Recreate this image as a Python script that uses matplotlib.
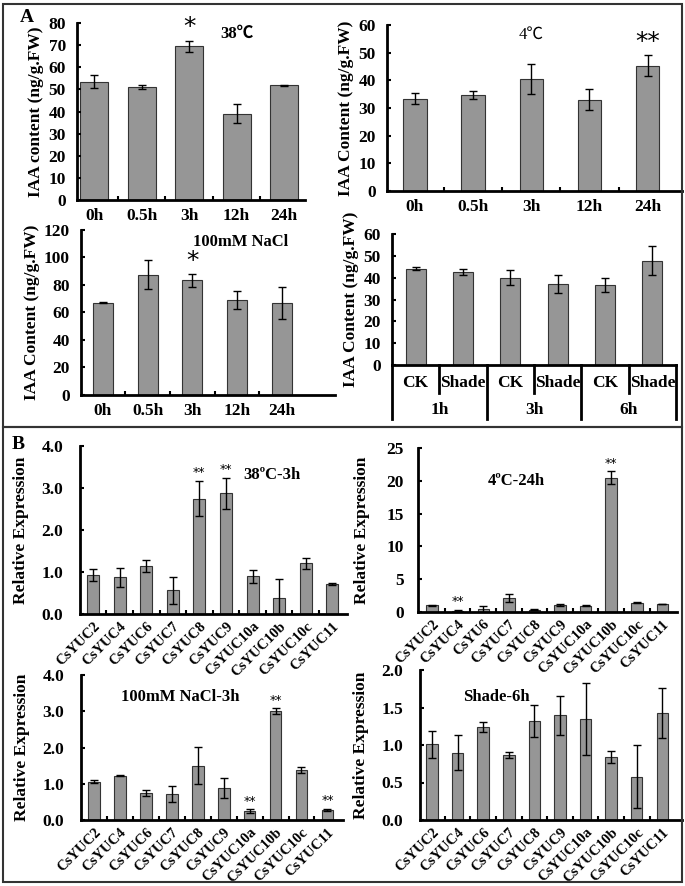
import numpy as np
import matplotlib
matplotlib.use('Agg')
import matplotlib.pyplot as plt
from matplotlib.patches import Rectangle

plt.rcParams['font.family'] = ['Liberation Serif', 'Noto Sans CJK SC']
plt.rcParams['font.weight'] = 'bold'
plt.rcParams['axes.labelweight'] = 'bold'

W, H = 685, 886

# ---- panel A data: IAA content (ng/g.FW) ----
hours = ['0h', '0.5h', '3h', '12h', '24h']
heat_iaa = [53.5, 51.0, 69.5, 39.0, 51.8]
heat_iaa_err = [3.0, 1.0, 2.5, 4.2, 0.4]
heat_iaa_sig = ['', '', '*', '', '']
cold_iaa = [33.3, 34.8, 40.5, 33.0, 45.3]
cold_iaa_err = [2.0, 1.5, 5.5, 3.8, 3.8]
cold_iaa_sig = ['', '', '', '', '**']
salt_iaa = [67.2, 87.5, 83.3, 69.0, 66.8]
salt_iaa_err = [0.6, 10.5, 4.5, 6.3, 11.8]
salt_iaa_sig = ['', '', '*', '', '']
shade_groups = ['CK', 'Shade', 'CK', 'Shade', 'CK', 'Shade']
shade_times = ['1h', '3h', '6h']
shade_iaa = [44.0, 42.5, 40.0, 37.0, 36.7, 47.8]
shade_iaa_err = [0.7, 1.5, 3.5, 4.2, 3.2, 6.8]

# ---- panel B data: relative expression ----
genes = ['CsYUC2', 'CsYUC4', 'CsYUC6', 'CsYUC7', 'CsYUC8', 'CsYUC9',
         'CsYUC10a', 'CsYUC10b', 'CsYUC10c', 'CsYUC11']
genes_cold = ['CsYUC2', 'CsYUC4', 'CsYU6', 'CsYUC7', 'CsYUC8', 'CsYUC9',
              'CsYUC10a', 'CsYUC10b', 'CsYUC10c', 'CsYUC11']
heat_exp = [0.93, 0.87, 1.14, 0.56, 2.75, 2.87, 0.90, 0.37, 1.21, 0.72]
heat_exp_err = [0.14, 0.22, 0.14, 0.32, 0.42, 0.38, 0.15, 0.47, 0.13, 0.03]
heat_exp_sig = ['', '', '', '', '**', '**', '', '', '', '']
cold_exp = [1.0, 0.15, 0.4, 2.1, 0.35, 1.1, 0.95, 20.5, 1.4, 1.25]
cold_exp_err = [0.05, 0.2, 0.5, 0.6, 0.1, 0.15, 0.05, 1.0, 0.1, 0.0]
cold_exp_sig = ['', '**', '', '', '', '', '', '**', '', '']
salt_exp = [1.06, 1.22, 0.75, 0.72, 1.50, 0.89, 0.25, 3.00, 1.38, 0.28]
salt_exp_err = [0.04, 0.01, 0.09, 0.23, 0.52, 0.27, 0.05, 0.08, 0.08, 0.03]
salt_exp_sig = ['', '', '', '', '', '', '**', '**', '', '**']
shade_exp = [1.01, 0.90, 1.24, 0.87, 1.32, 1.40, 1.35, 0.84, 0.58, 1.43]
shade_exp_err = [0.18, 0.23, 0.07, 0.04, 0.21, 0.26, 0.48, 0.08, 0.42, 0.33]

fig = plt.figure(figsize=(W / 100, H / 100), dpi=100)

BAR = '#969696'
EDGE = '#333333'
TICK = 12.5


def px_axes(l, t, r, b):
    return fig.add_axes([l / W, 1 - b / H, (r - l) / W, (b - t) / H])


def draw(ax, vals, errs, sig, xlim, ylim, yticks, fmt, width, star_size, ypad):
    x = np.arange(len(vals))
    ax.bar(x, vals, width, yerr=errs, color=BAR, edgecolor=EDGE, lw=0.8,
           error_kw=dict(ecolor='black', elinewidth=1, capsize=3, capthick=1))
    for xi, v, e, s in zip(x, vals, errs, sig):
        if s:
            ax.annotate(s, (xi, v + e), xytext=(0, 1), textcoords='offset points',
                        ha='center', va='bottom', fontsize=star_size,
                        family='DejaVu Sans', fontweight='normal')
    for s in ['top', 'right']:
        ax.spines[s].set_visible(False)
    for s in ['left', 'bottom']:
        ax.spines[s].set_linewidth(2)
    ax.set_xlim(*xlim)
    ax.set_ylim(*ylim)
    ax.set_yticks(yticks)
    ax.set_yticklabels([fmt.format(t) for t in yticks], fontweight='bold')
    ax.tick_params(axis='y', direction='in', length=3, width=1.5,
                   labelsize=TICK, pad=ypad)
    # small marks between categories, labels under bars
    ax.set_xticks(x[:-1] + 0.5)
    ax.set_xticklabels([])
    ax.tick_params(axis='x', which='major', direction='in', length=3, width=1.5)
    ax.patch.set_alpha(0)
    return x


def hour_labels(ax, x, labels):
    ax.set_xticks(x, labels, minor=True, fontweight='bold')
    ax.tick_params(axis='x', which='minor', length=0, labelsize=TICK, pad=6)


# ---------------- A ----------------
ax1 = px_axes(77, 23, 305, 200)
x = draw(ax1, heat_iaa, heat_iaa_err, heat_iaa_sig, (-0.36, 4.44), (0, 80),
         range(0, 81, 10), '{}', 0.59, 18, 8)
hour_labels(ax1, x, hours)
ax1.set_ylabel('IAA content (ng/g.FW)', fontsize=12.5, labelpad=3)
ax1.text(0.70, 0.94, '38\u2103', transform=ax1.transAxes, ha='center', va='center',
         fontsize=12)

ax2 = px_axes(387, 25, 682, 191)
x = draw(ax2, cold_iaa, cold_iaa_err, cold_iaa_sig, (-0.48, 4.59), (0, 60),
         range(0, 61, 10), '{}', 0.40, 18, 8)
hour_labels(ax2, x, hours)
ax2.set_ylabel('IAA Content (ng/g.FW)', fontsize=12.5, labelpad=3)
ax2.text(0.49, 0.94, '4\u2103', transform=ax2.transAxes, ha='center', va='center',
         fontsize=12, fontweight='normal')

ax3 = px_axes(81, 230, 335, 395)
x = draw(ax3, salt_iaa, salt_iaa_err, salt_iaa_sig, (-0.49, 5.19), (0, 120),
         range(0, 121, 20), '{}', 0.45, 18, 8)
hour_labels(ax3, x, hours)
ax3.set_ylabel('IAA Content (ng/g.FW)', fontsize=12.5, labelpad=3)
ax3.text(0.63, 0.93, '100mM NaCl', transform=ax3.transAxes, ha='center',
         va='center', fontsize=12)

ax4 = px_axes(392, 234, 676, 365)
x = draw(ax4, shade_iaa, shade_iaa_err, [''] * 6, (-0.5, 5.5), (0, 60),
         range(0, 61, 10), '{}', 0.42, 18, 8)
ax4.set_xticks([])
ax4.set_ylabel('IAA Content (ng/g.FW)', fontsize=12.5, labelpad=3)
tr = ax4.get_xaxis_transform()
for k in range(7):
    xb = k - 0.5
    low = -0.21 if k % 2 == 1 else -0.41
    ax4.plot([xb, xb], [0, low], color='black', lw=2, transform=tr, clip_on=False)
for xi, g in zip(x, shade_groups):
    ax4.text(xi, -0.14, g, transform=tr, ha='center', va='center', fontsize=TICK)
for k, t in enumerate(shade_times):
    ax4.text(2 * k + 0.5, -0.34, t, transform=tr, ha='center', va='center',
             fontsize=TICK)


# ---------------- B ----------------
def gene_labels(ax, x, labels):
    ax.set_xticks(x, labels, minor=True, fontweight='bold')
    ax.tick_params(axis='x', which='minor', length=0, labelsize=10.5, pad=4)
    for lab in ax.get_xticklabels(minor=True):
        lab.set_rotation(45)
        lab.set_ha('right')
        lab.set_rotation_mode('anchor')


ax5 = px_axes(80, 446, 347, 614)
x = draw(ax5, heat_exp, heat_exp_err, heat_exp_sig, (-0.49, 9.55), (0, 4),
         [0, 1, 2, 3, 4], '{:.1f}', 0.45, 9, 12)
gene_labels(ax5, x, genes)
ax5.set_ylabel('Relative Expression', fontsize=12.5, labelpad=9)
ax5.text(0.72, 0.83, '38\u00baC-3h', transform=ax5.transAxes, ha='center',
         va='center', fontsize=12)

ax6 = px_axes(418, 448, 677, 612)
x = draw(ax6, cold_exp, cold_exp_err, cold_exp_sig, (-0.55, 9.57), (0, 25),
         range(0, 26, 5), '{}', 0.45, 9, 10)
gene_labels(ax6, x, genes_cold)
ax6.set_ylabel('Relative Expression', fontsize=12.5, labelpad=12)
ax6.text(0.38, 0.8, '4\u00baC-24h', transform=ax6.transAxes, ha='center',
         va='center', fontsize=12)

ax7 = px_axes(81, 675, 343, 820)
x = draw(ax7, salt_exp, salt_exp_err, salt_exp_sig, (-0.5, 9.6), (0, 4),
         [0, 1, 2, 3, 4], '{:.1f}', 0.45, 9, 12)
gene_labels(ax7, x, genes)
ax7.set_ylabel('Relative Expression', fontsize=12.5, labelpad=9)
ax7.text(0.38, 0.85, '100mM NaCl-3h', transform=ax7.transAxes, ha='center',
         va='center', fontsize=12)

ax8 = px_axes(420, 670, 682, 820)
x = draw(ax8, shade_exp, shade_exp_err, [''] * 10, (-0.47, 9.77), (0, 2),
         [0, 0.5, 1, 1.5, 2], '{:.1f}', 0.45, 9, 12)
gene_labels(ax8, x, genes)
ax8.set_ylabel('Relative Expression', fontsize=12.5, labelpad=9)
ax8.text(0.29, 0.82, 'Shade-6h', transform=ax8.transAxes, ha='center',
         va='center', fontsize=12)

# panel letters and frames
fig.text(27 / W, 1 - 18 / H, 'A', fontsize=14, ha='center', va='center')
fig.text(18 / W, 1 - 445 / H, 'B', fontsize=14, ha='center', va='center')
fig.add_artist(Rectangle((3 / W, 1 - 427 / H), 679 / W, 423 / H,
                         transform=fig.transFigure, fill=False, lw=1.5, ec='#333333'))
fig.add_artist(Rectangle((3 / W, 1 - 882 / H), 679 / W, 455 / H,
                         transform=fig.transFigure, fill=False, lw=1.5, ec='#333333'))

fig.savefig('out.png', dpi=100)
